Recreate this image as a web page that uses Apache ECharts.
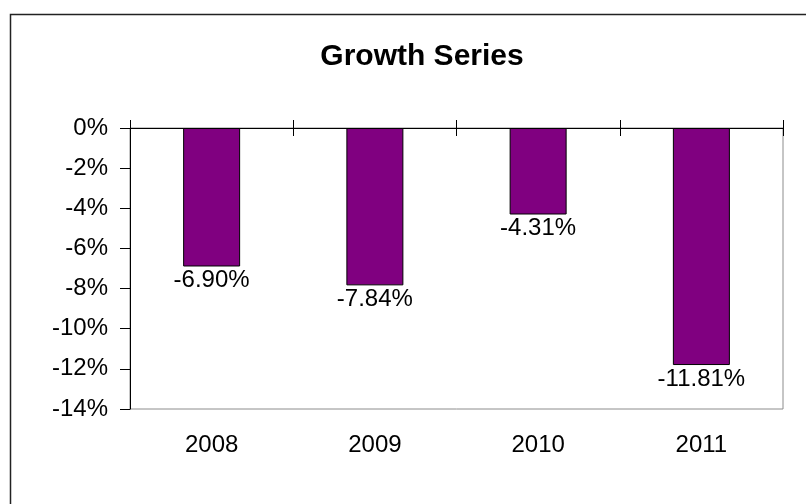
<!DOCTYPE html>
<html>
<head>
<meta charset="utf-8">
<script src="https://cdn.jsdelivr.net/npm/echarts@6/dist/echarts.min.js"></script>
<style>
html,body{margin:0;padding:0;background:#fff;}
#chart{width:806px;height:504px;}
</style>
</head>
<body>
<div id="chart"></div>
<script>
var titleText = 'Growth Series';
var categories = ['2008', '2009', '2010', '2011'];
var growthValues = [-6.90, -7.84, -4.31, -11.81];
var yMin = -14, yMax = 0, yStep = 2;

var FONT = '"Liberation Sans", Arial, sans-serif';
var chart = echarts.init(document.getElementById('chart'), null, {renderer: 'canvas'});
chart.setOption({
  animation: false,
  backgroundColor: '#ffffff',
  title: {
    text: titleText,
    left: 417, top: 37, textAlign: 'center',
    textStyle: {fontFamily: FONT, fontSize: 30, fontWeight: 'bold', color: '#000'}
  },
  graphic: [{
    type: 'rect', silent: true, z: -1,
    shape: {x: 10.5, y: 14.5, width: 900, height: 600},
    style: {fill: 'none', stroke: '#222', lineWidth: 1.5}
  }],
  grid: {
    show: true, left: 130, right: 23, top: 128, bottom: 95,
    borderColor: '#8c8c8c', borderWidth: 1, backgroundColor: 'transparent'
  },
  xAxis: [
    {
      type: 'category', data: categories, position: 'bottom', offset: 0,
      axisLine: {show: false, onZero: false}, axisTick: {show: false},
      axisLabel: {fontFamily: FONT, fontSize: 24, color: '#000', margin: 24, interval: 0},
      splitLine: {show: false}
    },
    {
      type: 'category', data: categories, position: 'top', offset: 0,
      axisLine: {show: true, onZero: false, lineStyle: {color: '#000', width: 1}},
      axisTick: {show: true, inside: false, length: 8, interval: 0, lineStyle: {color: '#000'}},
      axisLabel: {show: false}, splitLine: {show: false}
    },
    {
      type: 'category', data: categories, position: 'top', offset: 0,
      axisLine: {show: false, onZero: false},
      axisTick: {show: true, inside: true, length: 8, interval: 0, lineStyle: {color: '#000'}},
      axisLabel: {show: false}, splitLine: {show: false}
    }
  ],
  yAxis: {
    type: 'value', min: yMin, max: yMax, interval: yStep,
    axisLine: {show: true, onZero: false, lineStyle: {color: '#000', width: 1}},
    axisTick: {show: true, inside: false, length: 10, lineStyle: {color: '#000'}},
    axisLabel: {fontFamily: FONT, fontSize: 24, color: '#000', margin: 22, formatter: '{value}%'},
    splitLine: {show: false}
  },
  series: [{
    type: 'bar', data: growthValues, xAxisIndex: 0, barWidth: 57,
    itemStyle: {color: '#800080', borderColor: '#000', borderWidth: 1},
    label: {
      show: true, position: 'bottom', distance: 2,
      fontFamily: FONT, fontSize: 24, color: '#000',
      formatter: function (p) { return p.value.toFixed(2) + '%'; }
    }
  }]
});
</script>
</body>
</html>
